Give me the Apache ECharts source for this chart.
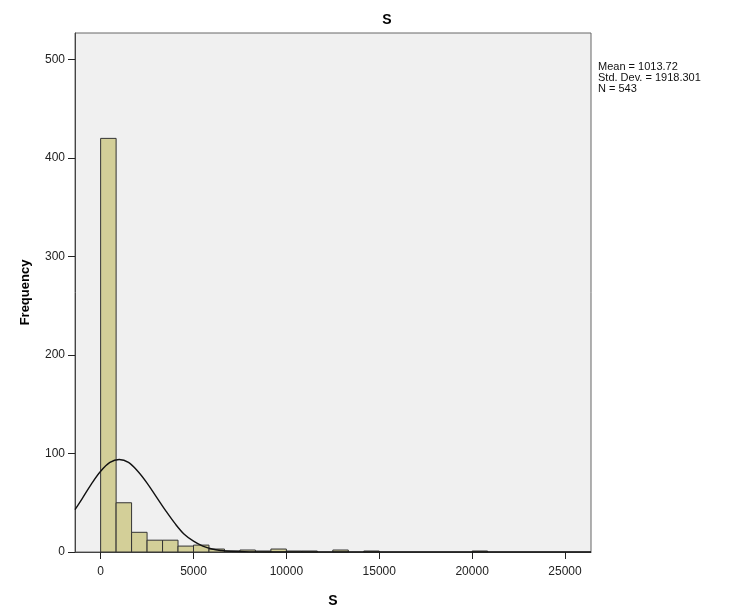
<!DOCTYPE html>
<html>
<head>
<meta charset="utf-8">
<script src="https://cdn.jsdelivr.net/npm/echarts@6/dist/echarts.min.js"></script>
<style>
  html, body { margin: 0; padding: 0; background: #fff; }
  #chart { width: 730px; height: 610px; }
</style>
</head>
<body>
<div id="chart"></div>
<script>
// histogram bins, width 5000/6, starting at 0
const binWidth = 5000 / 6
const counts = [420, 50, 20, 12, 12, 6, 7, 3, 1, 2, 1, 3, 1, 1, 0, 2, 0, 1, 0, 0, 0, 0, 0, 0, 1]

// normal curve
const curveX = [-1380, -1000, -500, 0, 500, 1000, 1500, 2000, 2500, 3000, 3500, 4000, 4500, 5000, 5500, 6000, 6500, 7000, 8000, 9000, 12000, 26400]
const curveY = [43, 54, 69, 82, 91, 94, 91, 82, 70, 56, 42, 29, 18, 11, 6, 3, 1.5, 0.7, 0.1, 0, 0, 0]

const xTicks = [0, 5000, 10000, 15000, 20000, 25000]
const yTicks = [0, 100, 200, 300, 400, 500]

const stats = ['Mean = 1013.72', 'Std. Dev. = 1918.301', 'N = 543']

const font = 'Arial, "Liberation Sans", sans-serif'

const chart = echarts.init(document.getElementById('chart'))

const bars = counts.map((c, i) => [i * binWidth, (i + 1) * binWidth, c]).filter(d => d[2] > 0)

const option = {
  animation: false,
  title: {
    text: 'S',
    left: 382,
    top: 8,
    textAlign: 'center',
    textStyle: { fontFamily: font, fontSize: 14, fontWeight: 'bold', color: '#000' }
  },
  grid: {
    left: 75, right: 139, top: 33, bottom: 58,
    outerBoundsMode: 'none',
    containLabel: false,
    show: true,
    backgroundColor: '#f0f0f0',
    borderColor: '#666',
    borderWidth: 1
  },
  xAxis: {
    type: 'value',
    min: -1380,
    max: 26400,
    name: 'S',
    nameLocation: 'middle',
    nameGap: 42,
    nameTextStyle: { fontFamily: font, fontSize: 14, fontWeight: 'bold', color: '#000' },
    axisLine: { show: true, onZero: false, lineStyle: { color: '#444', width: 1 } },
    axisTick: { show: true, length: 7, customValues: xTicks, lineStyle: { color: '#222' } },
    axisLabel: { customValues: xTicks, margin: 14, fontFamily: font, fontSize: 12, color: '#222', formatter: v => String(v) },
    splitLine: { show: false }
  },
  yAxis: {
    type: 'value',
    min: 0,
    max: 527,
    name: 'Frequency',
    nameLocation: 'middle',
    nameGap: 43,
    nameTextStyle: { fontFamily: font, fontSize: 13, fontWeight: 'bold', color: '#000' },
    axisLine: { show: true, onZero: false, lineStyle: { color: '#444', width: 1 } },
    axisTick: { show: true, length: 7, customValues: yTicks, lineStyle: { color: '#222' } },
    axisLabel: { customValues: yTicks, margin: 10, fontFamily: font, fontSize: 12, color: '#222', formatter: v => String(v) },
    splitLine: { show: false }
  },
  series: [
    {
      type: 'custom',
      data: bars,
      z: 2,
      renderItem: (params, api) => {
        const p0 = api.coord([api.value(0), api.value(2)])
        const p1 = api.coord([api.value(1), 0])
        return {
          type: 'rect',
          shape: { x: p0[0], y: p0[1], width: p1[0] - p0[0], height: p1[1] - p0[1] },
          style: { fill: '#d3cf98', stroke: '#333', lineWidth: 1 }
        }
      }
    },
    {
      type: 'line',
      data: curveX.map((x, i) => [x, curveY[i]]),
      smooth: 0.35,
      showSymbol: false,
      z: 3,
      lineStyle: { color: '#111', width: 1.4 }
    }
  ],
  graphic: [{
    type: 'text',
    left: 598,
    top: 61,
    style: {
      text: stats.join('\n'),
      fontFamily: font,
      fontSize: 11,
      lineHeight: 11,
      fill: '#111'
    }
  }]
}

chart.setOption(option)
</script>
</body>
</html>
